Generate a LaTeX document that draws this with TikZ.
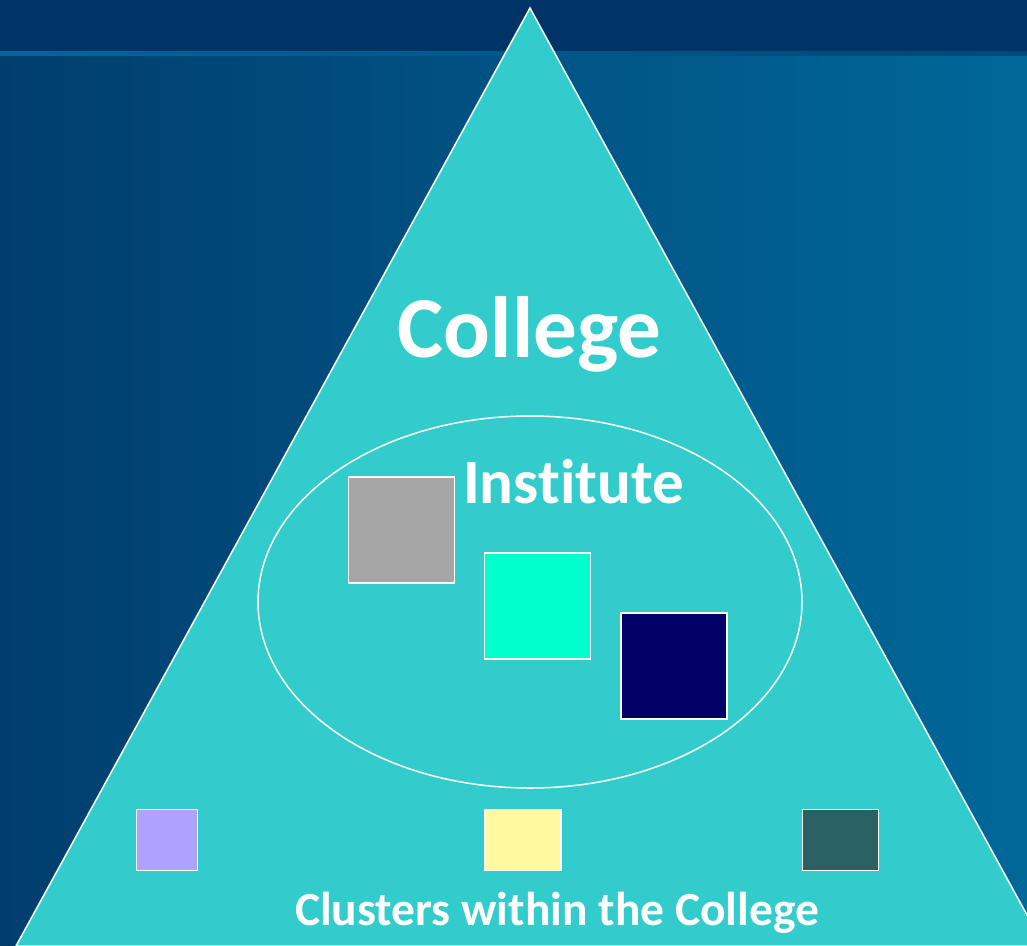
\documentclass[tikz,border=0pt]{standalone}
\usepackage{fontspec}
\setmainfont[Ligatures={NoCommon}]{Carlito}
\usetikzlibrary{shapes.geometric}
\definecolor{band}{RGB}{0,51,102}
\definecolor{bgleft}{RGB}{0,62,110}
\definecolor{bgright}{RGB}{0,104,153}
\definecolor{ruleleft}{RGB}{0,102,153}
\definecolor{ruleright}{RGB}{0,72,122}
\definecolor{tri}{RGB}{51,204,204}
\definecolor{sqgray}{RGB}{166,166,166}
\definecolor{sqaqua}{RGB}{0,255,204}
\definecolor{sqnavy}{RGB}{0,0,102}
\definecolor{sqlilac}{RGB}{175,161,255}
\definecolor{sqcream}{RGB}{255,250,160}
\definecolor{sqslate}{RGB}{42,98,100}
\tikzset{
  unit/.style={draw=white, line width=1.8pt, inner sep=0pt, outer sep=0pt},
  bigsq/.style={unit, minimum width=106pt, minimum height=106pt},
  label/.style={text=white, font=\bfseries, inner sep=0pt, anchor=base}
}
\begin{document}
\begin{tikzpicture}[x=1pt,y=-1pt]
\useasboundingbox (0,0) rectangle (1027,945);
% backdrop: dark title band, thin rule, shaded body
\fill[band] (0,0) rectangle (1027,55);
\shade[left color=bgleft, right color=bgright] (0,55) rectangle (1027,945);
\shade[left color=ruleleft, right color=ruleright] (0,51) rectangle (1027,55.5);
% the college triangle
\draw[white, line width=1.5pt, fill=tri] (530,8) -- (1044,946) -- (16,946) -- cycle;
\node[label, font=\bfseries\fontsize{87}{90}\selectfont] (college) at (529.5,357) {College};
% institute ellipse with its three units
\node[draw=white, line width=1.5pt, ellipse, minimum width=544pt, minimum height=372pt, inner sep=0pt] (institute) at (530,602) {};
\node[label, font=\bfseries\fontsize{63}{66}\selectfont] (instlabel) at (573.5,503) {Institute};
\node[bigsq, fill=sqgray] (u1) at (401.5,530) {};
\node[bigsq, fill=sqaqua] (u2) at (537.5,606) {};
\node[bigsq, fill=sqnavy] (u3) at (674,666) {};
% clusters along the base
\node[unit, fill=sqlilac, minimum width=61pt, minimum height=61pt] (c1) at (167,840) {};
\node[unit, fill=sqcream, minimum width=76pt, minimum height=61pt] (c2) at (523,840) {};
\node[unit, fill=sqslate, minimum width=76pt, minimum height=61pt] (c3) at (840.5,840) {};
\node[label, font=\bfseries\fontsize{47.5}{50}\selectfont] (clusters) at (557,925) {Clusters within the College};
\end{tikzpicture}
\end{document}
